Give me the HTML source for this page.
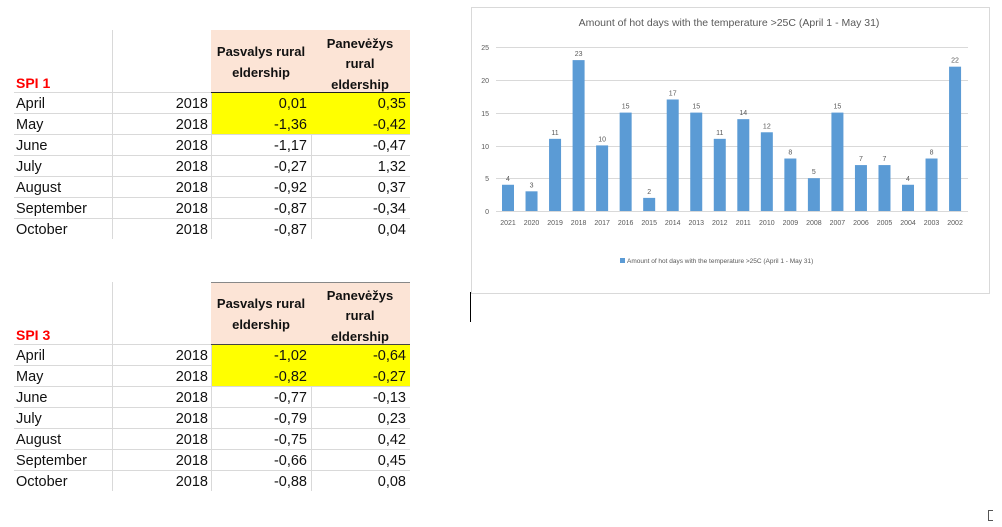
<!DOCTYPE html>
<html><head><meta charset="utf-8"><style>
html,body{margin:0;padding:0;background:#fff;width:1002px;height:527px;overflow:hidden}
svg{display:block;font-family:"Liberation Sans",sans-serif}
</style></head><body>
<svg width="1002" height="527" viewBox="0 0 1002 527" xmlns="http://www.w3.org/2000/svg">
<!-- Table 1 -->
<g id="t1">
<rect x="211" y="30" width="199" height="62" fill="#fce4d6"/>
<rect x="211" y="93" width="199" height="41" fill="#ffff00"/>
<g stroke="#d9d9d9" stroke-width="1">
<line x1="112.5" y1="30" x2="112.5" y2="239"/>
<line x1="211.5" y1="92" x2="211.5" y2="239"/>
<line x1="311.5" y1="134" x2="311.5" y2="239"/>
<line x1="14" y1="92.5" x2="211" y2="92.5"/>
<line x1="14" y1="113.5" x2="211" y2="113.5"/>
<line x1="14" y1="134.5" x2="410" y2="134.5"/>
<line x1="14" y1="155.5" x2="410" y2="155.5"/>
<line x1="14" y1="176.5" x2="410" y2="176.5"/>
<line x1="14" y1="197.5" x2="410" y2="197.5"/>
<line x1="14" y1="218.5" x2="410" y2="218.5"/>
</g>
<line x1="211" y1="92.5" x2="410" y2="92.5" stroke="#222" stroke-width="1"/>
<g font-size="13" font-weight="bold" fill="#111" text-anchor="middle">
<text x="261" y="56">Pasvalys rural</text><text x="261" y="77">eldership</text>
<text x="360" y="48">Panevėžys</text><text x="360" y="68">rural</text><text x="360" y="89">eldership</text>
</g>
<text x="16" y="88" font-size="14" font-weight="bold" fill="#ff0000">SPI 1</text>
<g font-size="14.5" fill="#111">
<text x="16" y="108">April</text><text x="16" y="129">May</text><text x="16" y="150">June</text><text x="16" y="171">July</text><text x="16" y="192">August</text><text x="16" y="213">September</text><text x="16" y="234">October</text>
</g>
<g font-size="14.5" fill="#111" text-anchor="end">
<text x="208" y="108">2018</text><text x="208" y="129">2018</text><text x="208" y="150">2018</text><text x="208" y="171">2018</text><text x="208" y="192">2018</text><text x="208" y="213">2018</text><text x="208" y="234">2018</text>
<text x="307" y="108">0,01</text><text x="307" y="129">-1,36</text><text x="307" y="150">-1,17</text><text x="307" y="171">-0,27</text><text x="307" y="192">-0,92</text><text x="307" y="213">-0,87</text><text x="307" y="234">-0,87</text>
<text x="406" y="108">0,35</text><text x="406" y="129">-0,42</text><text x="406" y="150">-0,47</text><text x="406" y="171">1,32</text><text x="406" y="192">0,37</text><text x="406" y="213">-0,34</text><text x="406" y="234">0,04</text>
</g>
</g>
<!-- Table 2 -->
<g transform="translate(0,252)">
<rect x="211" y="30" width="199" height="62" fill="#fce4d6"/>
<rect x="211" y="93" width="199" height="41" fill="#ffff00"/>
<g stroke="#d9d9d9" stroke-width="1">
<line x1="112.5" y1="30" x2="112.5" y2="239"/>
<line x1="211.5" y1="92" x2="211.5" y2="239"/>
<line x1="311.5" y1="134" x2="311.5" y2="239"/>
<line x1="14" y1="92.5" x2="211" y2="92.5"/>
<line x1="14" y1="113.5" x2="211" y2="113.5"/>
<line x1="14" y1="134.5" x2="410" y2="134.5"/>
<line x1="14" y1="155.5" x2="410" y2="155.5"/>
<line x1="14" y1="176.5" x2="410" y2="176.5"/>
<line x1="14" y1="197.5" x2="410" y2="197.5"/>
<line x1="14" y1="218.5" x2="410" y2="218.5"/>
</g>
<line x1="211" y1="30.5" x2="410" y2="30.5" stroke="#888" stroke-width="1"/>
<line x1="211" y1="92.5" x2="410" y2="92.5" stroke="#444" stroke-width="1"/>
<g font-size="13" font-weight="bold" fill="#111" text-anchor="middle">
<text x="261" y="56">Pasvalys rural</text><text x="261" y="77">eldership</text>
<text x="360" y="48">Panevėžys</text><text x="360" y="68">rural</text><text x="360" y="89">eldership</text>
</g>
<text x="16" y="88" font-size="14" font-weight="bold" fill="#ff0000">SPI 3</text>
<g font-size="14.5" fill="#111">
<text x="16" y="108">April</text><text x="16" y="129">May</text><text x="16" y="150">June</text><text x="16" y="171">July</text><text x="16" y="192">August</text><text x="16" y="213">September</text><text x="16" y="234">October</text>
</g>
<g font-size="14.5" fill="#111" text-anchor="end">
<text x="208" y="108">2018</text><text x="208" y="129">2018</text><text x="208" y="150">2018</text><text x="208" y="171">2018</text><text x="208" y="192">2018</text><text x="208" y="213">2018</text><text x="208" y="234">2018</text>
<text x="307" y="108">-1,02</text><text x="307" y="129">-0,82</text><text x="307" y="150">-0,77</text><text x="307" y="171">-0,79</text><text x="307" y="192">-0,75</text><text x="307" y="213">-0,66</text><text x="307" y="234">-0,88</text>
<text x="406" y="108">-0,64</text><text x="406" y="129">-0,27</text><text x="406" y="150">-0,13</text><text x="406" y="171">0,23</text><text x="406" y="192">0,42</text><text x="406" y="213">0,45</text><text x="406" y="234">0,08</text>
</g>
</g>
<!-- Chart -->
<rect x="471.5" y="7.5" width="518" height="286" fill="#fff" stroke="#d9d9d9"/>
<line x1="470.5" y1="292" x2="470.5" y2="322" stroke="#000"/>
<text x="729" y="26" font-size="10.5" fill="#595959" text-anchor="middle">Amount of hot  days with the temperature &gt;25C (April 1 - May 31)</text>
<g stroke="#d9d9d9" stroke-width="1">
<line x1="496" y1="47.5" x2="968" y2="47.5"/><line x1="496" y1="80.5" x2="968" y2="80.5"/>
<line x1="496" y1="113.5" x2="968" y2="113.5"/><line x1="496" y1="146.5" x2="968" y2="146.5"/>
<line x1="496" y1="178.5" x2="968" y2="178.5"/><line x1="496" y1="211.5" x2="968" y2="211.5"/>
</g>
<g font-size="7" fill="#595959" text-anchor="end">
<text x="489" y="50">25</text><text x="489" y="83">20</text><text x="489" y="116">15</text><text x="489" y="149">10</text><text x="489" y="181">5</text><text x="489" y="214">0</text>
</g>
<g id="bars" fill="#5b9bd5"></g>
<g id="lbl" font-size="7" fill="#595959" text-anchor="middle"></g>
<rect x="620" y="258" width="5" height="5" fill="#5b9bd5"/>
<text x="627" y="263" font-size="6.5" fill="#595959">Amount of hot  days with the temperature &gt;25C (April 1 - May 31)</text>
<line x1="988.5" y1="510" x2="988.5" y2="521" stroke="#555"/>
<line x1="988" y1="510.5" x2="993" y2="510.5" stroke="#555"/>
<line x1="988" y1="520.5" x2="993" y2="520.5" stroke="#555"/>
<script>
var v=[4,3,11,23,10,15,2,17,15,11,14,12,8,5,15,7,7,4,8,22];
var ns="http://www.w3.org/2000/svg",b=document.getElementById("bars"),l=document.getElementById("lbl");
for(var i=0;i<20;i++){var cx=508+i*23.53,h=v[i]*6.56;
var r=document.createElementNS(ns,"rect");r.setAttribute("x",cx-6);r.setAttribute("y",211-h);r.setAttribute("width",12);r.setAttribute("height",h);b.appendChild(r);
var t=document.createElementNS(ns,"text");t.setAttribute("x",cx);t.setAttribute("y",211-h-4);t.textContent=v[i];l.appendChild(t);
var y=document.createElementNS(ns,"text");y.setAttribute("x",cx);y.setAttribute("y",225);y.textContent=2021-i;l.appendChild(y);}
</script>
</svg>
</body></html>
